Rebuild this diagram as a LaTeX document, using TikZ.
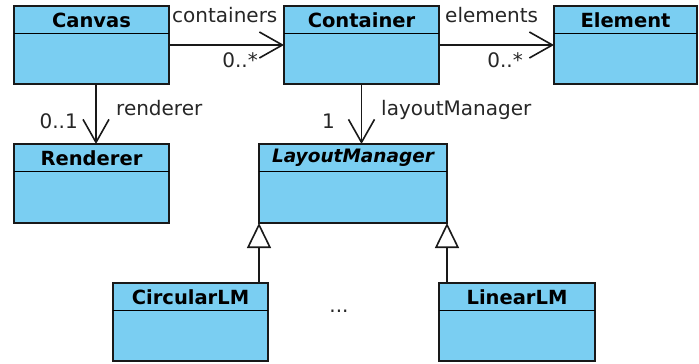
\documentclass[tikz,border=0pt]{standalone}
\usepackage{fontspec}
\setmainfont{DejaVu Sans}
\usetikzlibrary{arrows.meta}
\definecolor{clsfill}{RGB}{122,206,242}
\newcommand\umlbox[6][]{%
  \node[cls, minimum width=#4, minimum height=#5] (#2) at (#3) {};
  \draw[line width=1.8pt] ([yshift=-27.5pt]#2.north west) -- ([yshift=-27.5pt]#2.north east);
  \node[title, #1] (#2-title) at ([yshift=-14pt]#2.north) {#6};
}
\begin{document}
\begin{tikzpicture}[x=1pt,y=-1pt,
  cls/.style={draw=black!90, line width=1.8pt, fill=clsfill, inner sep=0pt, outer sep=0pt},
  title/.style={font=\fontsize{19.5}{21}\selectfont\bfseries, inner sep=0pt},
  lbl/.style={font=\fontsize{20}{22}\selectfont, inner sep=0pt, text=black!85},
  assoc/.style={draw=black!90, line width=1.6pt, -{Straight Barb[length=23pt,width=26pt,line width=1.6pt]}},
  inherit/.style={draw=black!90, line width=1.6pt, -{Triangle[open,length=25pt,width=24pt,line width=1.6pt,fill=white]}}
]
\useasboundingbox (0,0) rectangle (699,364);
\umlbox{canvas}{91.5,45}{155pt}{78pt}{Canvas}
\umlbox{container}{361.5,45}{155pt}{78pt}{Container}
\umlbox{element}{625.5,45}{143pt}{78pt}{Element}
\umlbox{renderer}{91.5,183.5}{155pt}{79pt}{Renderer}
\umlbox[font=\fontsize{18.5}{20}\selectfont\bfseries\itshape]{lm}{353,183.5}{188pt}{79pt}{LayoutManager}
\umlbox{circ}{190.5,322}{155pt}{78pt}{CircularLM}
\umlbox{lin}{517,322}{156pt}{78pt}{LinearLM}

\draw[assoc] (canvas.east) -- (container.west);
\draw[assoc] (container.east) -- (element.west);
\draw[assoc] ([xshift=4.5pt]canvas.south) -- ([xshift=4.5pt]renderer.north);
\draw[assoc] (container.south) -- (container.south |- lm.north);
\draw[inherit] (lm.south west |- circ.north) -- (lm.south west);
\draw[inherit] (lm.south east |- lin.north) -- (lm.south east);

\node[lbl, anchor=base west] (l-containers) at (172,23) {containers};
\node[lbl, anchor=base east] (l-cmult) at (258,67) {0..*};
\node[lbl, anchor=base west] (l-elements) at (445,23) {elements};
\node[lbl, anchor=base east] (l-emult) at (523,67) {0..*};
\node[lbl, anchor=base west] (l-renderer) at (116,115) {renderer};
\node[lbl, anchor=base east] (l-rmult) at (78,128) {0..1};
\node[lbl, anchor=base west] (l-lm) at (381,115) {layoutManager};
\node[lbl, anchor=base east] (l-lmult) at (335,128) {1};
\node[lbl, anchor=base] (dots) at (339,312) {...};
\end{tikzpicture}
\end{document}
